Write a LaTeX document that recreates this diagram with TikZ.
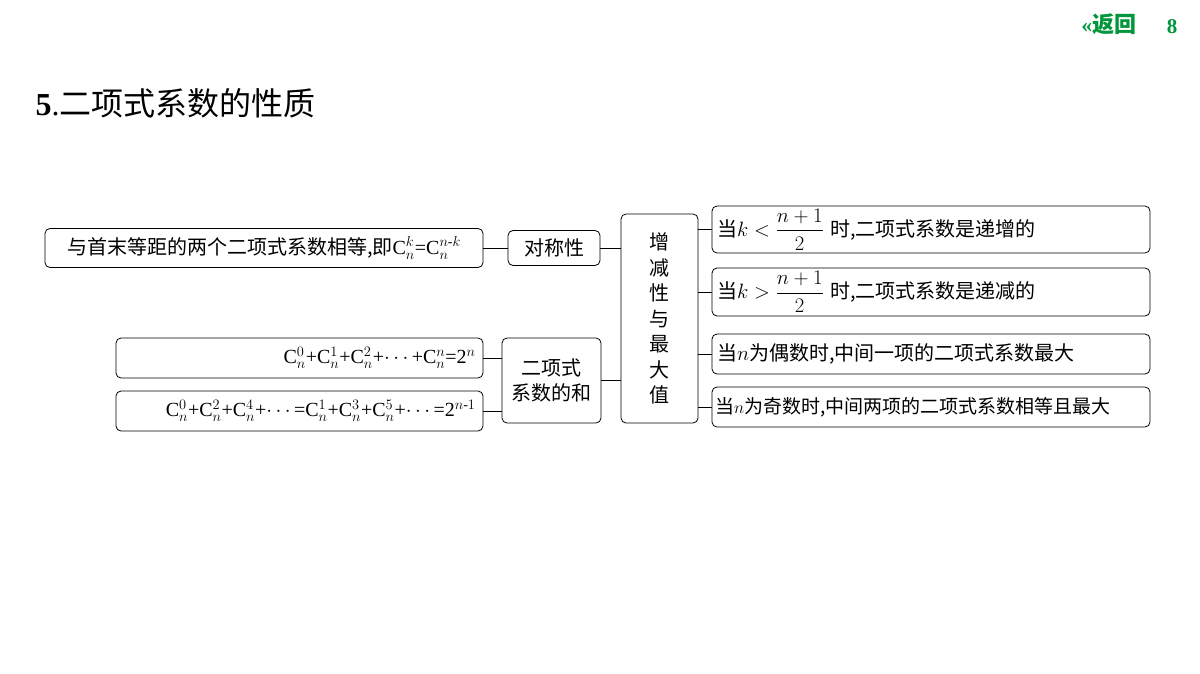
\documentclass[tikz,border=0pt]{standalone}
\usepackage{amsmath}
\usepackage{fontspec}
\setmainfont{Liberation Serif}
\newfontfamily\cj{Noto Sans CJK SC}
\definecolor{gr}{RGB}{0,150,60}
\begin{document}
\begin{tikzpicture}[x=1pt,y=-1pt,
 bx/.style={draw,rounded corners=5pt,line width=0.8pt,inner sep=0pt,font=\fontsize{20}{22}\selectfont},
 ln/.style={line width=0.8pt}]
\useasboundingbox[fill=white] (0,0) rectangle (1200,673);
\node[anchor=east,text=gr,font=\bfseries\fontsize{22}{24}\selectfont] (back) at (1140,24) {\textbf{«}{\cj 返回}};
\node[text=gr,font=\bfseries\fontsize{21}{22}\selectfont] (pg) at (1172,27) {8};
\node[anchor=west,font=\fontsize{32}{36}\selectfont] (title) at (32,103) {\textbf{5}.{\cj 二项式系数的性质}};

\node[bx,minimum width=438,minimum height=39] (L1) at (264,248) {{\cj 与首末等距的两个二项式系数相等,即}$\mathrm{C}_n^k$=$\mathrm{C}_n^{n\text{-}k}$};
\node[bx,minimum width=92,minimum height=35] (S) at (554,248) {\cj 对称性};
\node[bx,minimum width=77,minimum height=209,align=center,font=\cj\fontsize{20}{25.5}\selectfont] (M) at (659.5,318.5) {增\\减\\性\\与\\最\\大\\值};
\node[bx,minimum width=99,minimum height=85,align=center,font=\cj\fontsize{20}{25}\selectfont] (H) at (551.5,380.5) {二项式\\系数的和};
\node[bx,minimum width=367,minimum height=40,text width=352,align=right] (A1) at (299.5,358) {$\mathrm{C}_n^0$+$\mathrm{C}_n^1$+$\mathrm{C}_n^2$+$\cdots$+$\mathrm{C}_n^n$=2$^n$};
\node[bx,minimum width=367,minimum height=40,text width=352,align=right] (A2) at (299.5,411) {$\mathrm{C}_n^0$+$\mathrm{C}_n^2$+$\mathrm{C}_n^4$+$\cdots$=$\mathrm{C}_n^1$+$\mathrm{C}_n^3$+$\mathrm{C}_n^5$+$\cdots$=2$^{n\text{-}1}$};

\node[bx,minimum width=438,minimum height=47,text width=428,align=left] (R1) at (931,229.5) {{\cj 当}$k<\dfrac{n+1}{2}$ {\cj 时,二项式系数是递增的}};
\node[bx,minimum width=438,minimum height=48,text width=428,align=left] (R2) at (931,292) {{\cj 当}$k>\dfrac{n+1}{2}$ {\cj 时,二项式系数是递减的}};
\node[bx,minimum width=438,minimum height=40,text width=428,align=left] (R3) at (931,354) {{\cj 当}$n${\cj 为偶数时,中间一项的二项式系数最大}};
\node[bx,minimum width=438,minimum height=40,text width=432,align=left,font=\fontsize{19}{22}\selectfont] (R4) at (931,407) {{\cj 当}$n${\cj 为奇数时,中间两项的二项式系数相等且最大}};

\draw[ln] (L1.east) -- (S.west);
\draw[ln] (S.east) -- (S.east -| M.west);
\draw[ln] (H.east) -- (H.east -| M.west);
\draw[ln] (A1.east) -- (A1.east -| H.west);
\draw[ln] (A2.east) -- (A2.east -| H.west);
\foreach \r in {R1,R2,R3,R4}{\draw[ln] (\r.west -| M.east) -- (\r.west);}
\end{tikzpicture}
\end{document}
